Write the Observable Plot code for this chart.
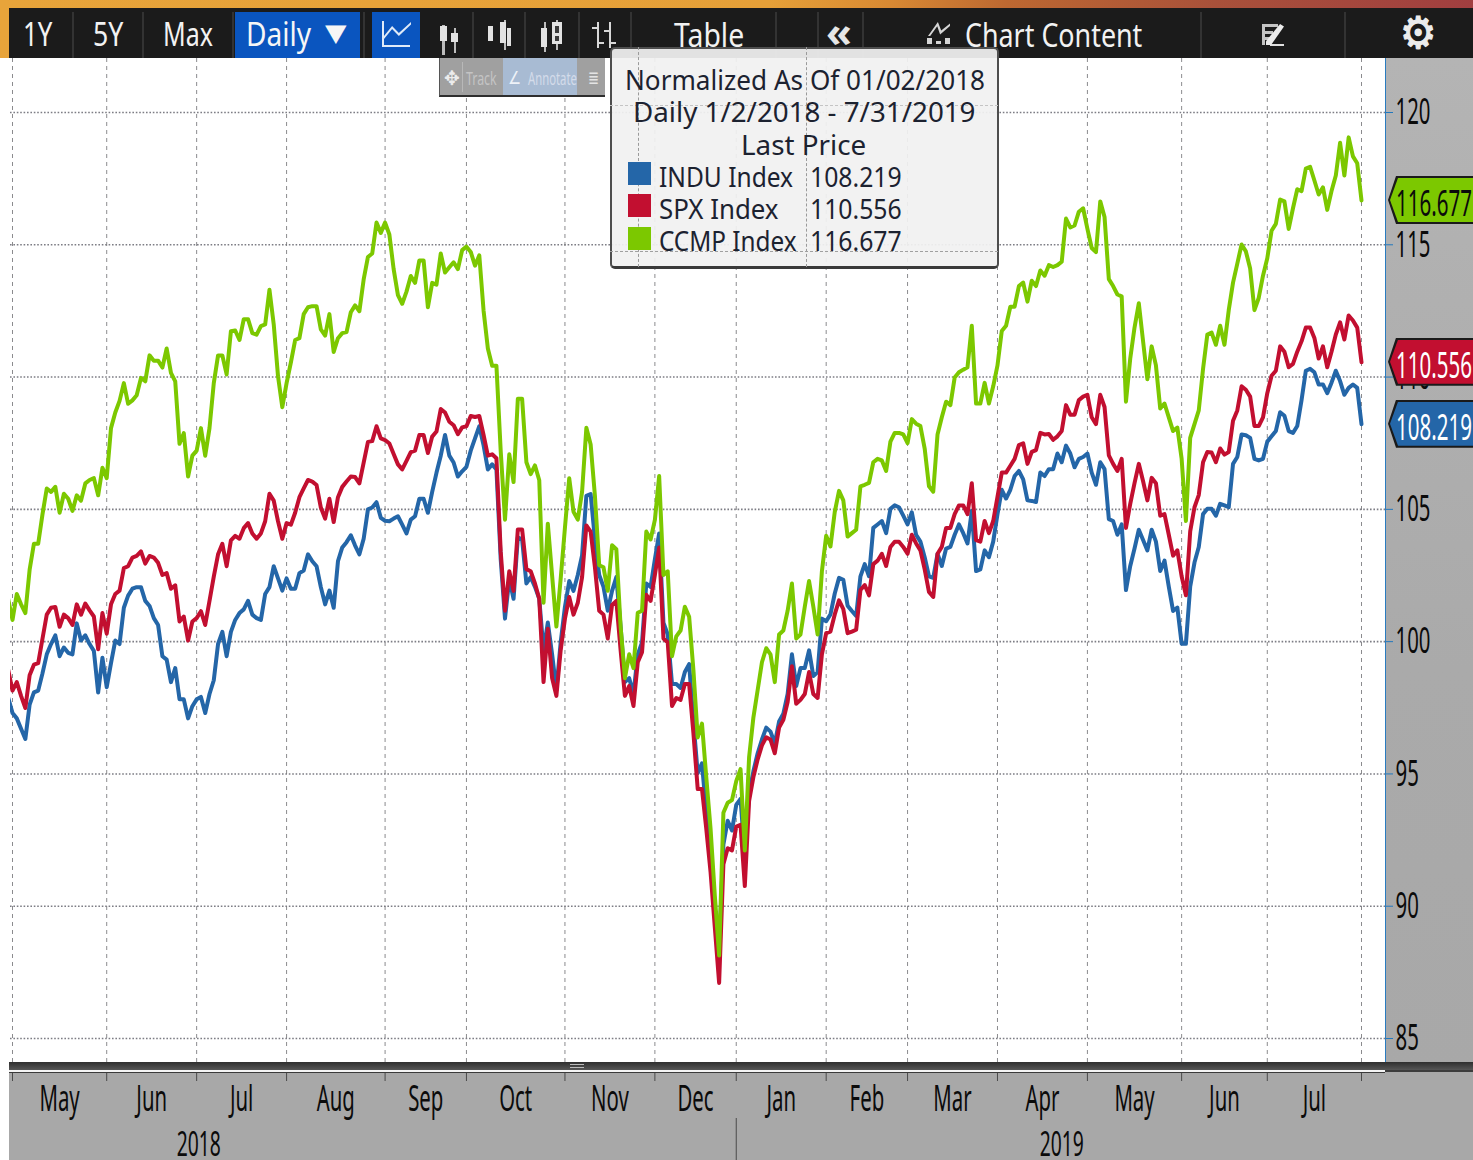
<!DOCTYPE html>
<html>
<head>
<meta charset="utf-8">
<script src="https://cdn.jsdelivr.net/npm/d3@7"></script>
<script src="https://cdn.jsdelivr.net/npm/@observablehq/plot@0.6"></script>
<style>
html,body{margin:0;padding:0;background:#fff;}
#stage{position:relative;width:1473px;height:1160px;overflow:hidden;font-family:"Noto Sans",sans-serif;}
#under,#over{position:absolute;left:0;top:0;width:1473px;height:1160px;}
#under{z-index:0;} #over{z-index:2;}
#chart{position:absolute;left:0;top:0;z-index:1;}
.b{position:absolute;}
.t{position:absolute;white-space:nowrap;line-height:1;transform-origin:left center;}
</style>
</head>
<body>
<div id="stage"><div id="under"></div><div id="chart"></div><div id="over"></div></div>
<script>
// Session numbers count trading days from 1 May 2018; the first value is the session before it.
const firstSession = -1;
const indu = [97.88,97.3,97.1,96.71,96.32,97.62,98.08,98.15,98.8,99.52,99.91,100.24,99.45,99.78,99.58,99.52,100.69,100.04,100.24,99.91,99.65,98.08,99.39,98.28,99.19,100.04,99.91,101.28,101.74,102.0,102.06,102.06,101.54,101.35,100.89,100.63,99.45,99.32,98.47,99.0,97.82,97.82,97.1,97.56,97.82,97.91,97.3,98.02,98.54,99.91,100.37,99.45,100.37,100.82,101.08,101.22,101.54,101.02,100.89,100.82,101.8,102.06,102.85,102.39,101.93,102.39,102.0,102.0,102.59,102.69,103.3,103.04,102.85,102.06,101.41,101.93,101.28,103.04,103.56,103.76,104.02,103.63,103.3,103.89,105.0,105.07,105.27,104.68,104.57,104.55,104.65,104.74,104.42,104.09,104.61,104.74,105.4,105.4,104.87,105.66,106.38,107.03,107.81,107.03,106.77,106.24,106.44,106.61,107.22,107.68,108.14,107.42,106.51,106.7,106.51,
103.11,100.87,102.37,101.62,103.94,103.86,102.2,102.44,102.07,101.62,99.67,100.72,99.52,98.17,99.97,101.32,102.29,101.92,102.52,103.26,105.51,105.58,103.86,102.52,102.07,101.17,101.92,102.44,100.57,98.47,98.62,98.02,99.52,99.97,102.2,102.07,103.11,104.09,100.72,100.27,98.4,98.4,98.25,98.85,99.15,96.98,95.03,95.4,93.53,91.89,89.94,88.29,92.34,93.23,92.86,93.83,94.06,91.89,94.28,95.1,95.78,96.3,96.75,96.6,96.15,96.98,97.28,98.02,99.52,98.32,99.0,99.0,99.67,98.7,98.85,100.87,
100.77,101.03,101.82,102.41,102.34,101.36,101.16,100.97,102.47,102.93,102.47,104.3,104.43,104.56,104.1,105.02,105.15,105.08,104.76,104.43,104.89,104.04,103.78,103.19,102.47,102.41,103.32,102.86,103.52,103.58,104.04,104.43,104.1,103.71,104.95,102.67,102.73,103.45,103.19,103.78,104.82,105.74,105.41,105.74,106.26,106.45,106.13,105.34,105.32,105.28,106.39,106.26,106.52,106.52,107.11,106.78,107.41,107.11,106.59,106.91,106.98,107.11,106.39,105.93,106.78,106.52,104.63,104.56,104.04,104.43,101.95,102.86,103.52,104.23,103.84,103.45,104.23,103.78,102.67,103.06,102.08,101.16,101.29,99.92,99.92,102.08,102.99,103.58,104.82,105.02,105.02,104.76,105.21,105.15,105.08,106.72,106.98,107.83,107.8,107.7,106.91,106.85,106.91,107.56,107.76,107.96,108.67,108.54,107.96,107.89,108.15,109.13,110.24,110.31,110.18,109.72,109.72,109.39,109.79,110.24,109.85,109.33,109.59,109.72,109.59,108.219];
const spx = [98.93,98.15,98.47,97.95,97.49,98.73,99.13,99.19,100.11,101.02,101.28,101.31,100.56,101.02,100.89,100.63,101.41,101.02,101.44,101.18,100.95,99.71,101.08,100.3,101.41,101.8,101.93,102.78,102.85,103.18,103.24,103.41,102.95,103.24,103.18,102.98,102.52,102.59,102.0,102.13,100.76,100.95,100.04,100.76,100.89,101.15,100.63,101.54,102.46,103.3,103.7,102.85,103.83,104.0,103.89,104.29,104.48,104.09,103.89,104.09,104.55,105.59,105.33,104.55,103.89,104.48,104.42,104.87,105.46,105.79,106.11,106.05,105.92,105.07,104.65,105.4,104.52,105.46,105.85,106.05,106.24,106.22,105.98,106.77,107.55,107.58,108.14,107.68,107.62,107.49,107.09,106.7,106.51,106.83,107.16,107.22,107.81,107.81,107.13,107.75,107.94,108.79,108.66,108.31,108.18,107.84,108.1,108.14,108.53,108.49,108.53,107.81,107.03,107.08,106.93,
103.41,101.17,102.66,101.92,104.24,104.24,102.74,102.66,102.2,101.62,98.47,100.49,98.62,97.95,99.67,100.87,101.69,101.02,101.47,102.44,104.39,104.16,102.81,101.17,101.02,100.12,101.39,101.54,99.67,97.95,98.32,97.57,99.22,99.6,101.77,101.54,102.52,103.56,100.12,99.97,97.57,97.87,97.8,98.4,98.4,96.53,94.43,94.43,92.93,91.29,89.19,87.1,91.59,92.19,92.11,93.01,93.08,90.76,93.98,94.88,95.55,96.08,96.38,96.3,95.78,96.75,97.05,97.72,99.07,97.65,97.8,98.02,98.85,98.02,97.87,99.52,
100.32,100.38,101.03,101.56,101.23,100.32,100.38,100.45,101.95,102.14,101.75,102.93,103.06,103.32,102.86,103.58,103.78,103.78,103.58,103.32,104.04,103.71,103.45,102.73,101.88,101.69,103.32,103.58,104.3,104.3,104.82,105.15,105.15,104.82,105.99,103.84,103.78,104.56,104.1,104.56,105.47,106.39,106.39,106.65,106.91,107.43,107.5,106.72,107.17,107.24,107.89,107.83,107.85,107.63,107.76,107.96,108.94,108.58,108.58,109.13,109.26,109.33,108.48,108.22,109.33,108.87,107.04,106.72,106.45,106.91,104.3,105.21,105.99,106.72,106.06,105.34,106.19,105.99,104.76,104.82,104.04,103.25,103.45,102.47,101.75,104.17,105.08,105.54,106.78,107.17,107.15,106.78,107.3,107.07,107.17,108.35,108.74,109.65,109.52,109.26,108.15,108.15,108.48,109.39,110.05,110.24,111.16,110.96,110.37,110.5,110.96,111.35,111.87,111.87,111.48,110.7,111.16,110.37,110.96,111.61,112.07,111.42,112.33,112.14,111.87,110.556];
const ccmp = [101.6,100.82,101.8,101.41,101.08,102.72,103.7,103.7,104.81,105.79,105.66,105.85,104.87,105.59,105.4,104.94,105.53,105.33,105.98,106.11,106.18,105.53,106.57,106.18,108.07,108.66,109.1,109.77,108.99,109.12,109.31,109.97,109.84,110.82,110.62,110.62,110.36,111.08,110.16,109.84,107.48,107.88,106.24,107.03,107.22,108.07,107.03,108.07,109.77,110.82,110.82,110.1,111.73,111.76,111.4,112.19,112.19,111.66,111.6,111.93,111.99,113.3,111.99,110.03,108.86,109.77,110.55,111.4,111.47,112.38,112.64,112.68,112.68,111.8,111.57,112.38,110.95,111.47,111.66,111.7,112.45,112.71,112.49,113.69,114.54,114.67,115.84,115.45,115.84,115.39,114.08,113.1,112.77,113.23,113.82,113.56,114.41,114.41,112.64,113.56,113.49,114.67,113.95,114.15,114.34,114.08,114.8,114.93,114.73,114.21,114.6,112.51,111.08,110.43,110.43,
107.2,104.61,107.08,106.03,109.18,109.18,106.78,106.33,106.66,106.1,101.47,104.46,102.5,100.57,102.37,104.31,106.18,104.91,104.61,105.66,108.08,107.45,105.51,102.89,102.81,101.92,103.64,103.49,100.57,98.62,99.52,99.0,101.09,101.17,104.16,103.86,104.6,106.26,102.52,102.66,99.45,100.2,100.42,101.32,100.94,98.92,96.38,96.9,94.88,92.93,90.39,88.14,93.53,93.91,94.01,94.73,95.18,92.11,95.63,97.13,98.17,99.22,99.75,99.52,98.47,100.27,100.42,101.17,102.2,100.12,100.27,101.32,102.29,101.32,100.27,102.66,
104.0,103.6,104.9,105.7,105.34,103.97,104.1,104.23,105.87,105.93,106.0,106.78,106.91,106.85,106.45,107.56,107.89,107.89,107.83,107.5,108.41,108.24,108.15,107.3,105.87,105.67,107.83,108.48,109.07,108.94,109.98,110.18,110.28,110.37,111.94,109.0,109.0,109.78,109.0,109.65,110.44,111.74,111.94,112.66,112.66,113.44,113.57,112.85,113.64,113.44,114.03,113.83,114.23,114.16,114.23,114.36,115.99,115.66,115.73,116.25,116.38,115.6,114.88,114.72,116.64,116.05,113.7,113.44,113.12,113.05,109.07,110.7,111.87,112.79,111.35,109.92,111.16,110.44,108.81,109.0,108.48,107.96,108.09,106.91,104.56,107.7,108.22,108.74,110.31,111.61,111.68,111.22,111.94,111.22,112.53,113.57,114.29,115.01,114.75,114.1,112.53,112.99,113.83,114.49,115.53,115.79,116.71,116.64,115.6,116.38,117.1,117.03,117.88,117.95,117.43,116.9,117.17,116.32,117.03,117.62,118.86,117.62,119.06,118.34,118.08,116.677];

const seriesNames = ["INDU Index","SPX Index","CCMP Index"];
const seriesColors = ["#2466a8","#c20f30","#7cc800"];
const lastPrices = ["108.219","110.556","116.677"];
const yTicks = [85,90,95,100,105,110,115,120];
const monthLabels = ["May","Jun","Jul","Aug","Sep","Oct","Nov","Dec","Jan","Feb","Mar","Apr","May","Jun","Jul"];
const monthStarts = [0,22,43,64,87,106,129,150,169,190,209,230,251,273,293];
const monthEnd = 315;
const yearLabels = ["2018","2019"];
const yearAt = [43.5,245];
const yearBreak = 169;

const rows = [];
[indu,spx,ccmp].forEach((vals,s) => vals.forEach((v,i) => rows.push({session:i+firstSession, value:v, series:seriesNames[s]})));
const monthRows = monthLabels.map((m,i) => ({label:m, mid:(monthStarts[i]+(monthStarts[i+1] ?? monthEnd))/2}));
const yearRows = yearLabels.map((y,i) => ({label:y, at:yearAt[i]}));
const allTicks = [...monthStarts, monthEnd];

const plot = Plot.plot({
  width:1473, height:1160,
  marginTop:58, marginBottom:98, marginLeft:10, marginRight:88,
  style:{background:"transparent", fontFamily:"'Noto Sans',sans-serif"},
  x:{type:"linear", domain:[0,315], range:[12,1361]},
  y:{type:"linear", domain:[85,120], range:[1038,112]},
  color:{domain:seriesNames, range:seriesColors},
  marks:[
    Plot.gridY(yTicks,{stroke:"#6f6f78", strokeOpacity:0.9, strokeWidth:1.6, strokeDasharray:"1.6 1.8"}),
    Plot.gridX(allTicks,{stroke:"#77777a", strokeOpacity:0.85, strokeWidth:1, strokeDasharray:"4 4"}),
    Plot.line(rows,{x:"session", y:"value", z:"series", stroke:"series", strokeWidth:4, strokeLinejoin:"round", clip:true}),
    Plot.axisY({anchor:"right", ticks:yTicks, tickSize:7, tickPadding:3, fontSize:37, stroke:"#2378bd", fill:"#0b0b0b", tickFormat:d=>String(d), label:null}),
    Plot.axisX({anchor:"bottom", ticks:allTicks, tickSize:8, dy:11, stroke:"#4a4a4a", tickFormat:()=>"", label:null}),
    Plot.axisX({anchor:"bottom", ticks:[yearBreak], tickSize:42, dy:56, stroke:"#4a4a4a", tickFormat:()=>"", label:null}),
    Plot.text(monthRows,{x:"mid", text:"label", frameAnchor:"bottom", dy:48, fontSize:37, fill:"#0b0b0b"}),
    Plot.text(yearRows,{x:"at", text:"label", frameAnchor:"bottom", dy:93, fontSize:35, fill:"#0b0b0b"})
  ]
});
document.getElementById("chart").appendChild(plot);
// The reference's type is tall and narrow
d3.select(plot).selectAll("text").each(function(){
  const n = this.getComputedTextLength();
  if (n > 0) { this.setAttribute("textLength", (n*0.55).toFixed(1)); this.setAttribute("lengthAdjust","spacingAndGlyphs"); }
});

const under = document.getElementById("under"), over = document.getElementById("over");
function box(parent,x,y,w,h,bg,extra){
  const d=document.createElement("div"); d.className="b";
  d.style.cssText=`left:${x}px;top:${y}px;width:${w}px;height:${h}px;background:${bg};${extra||""}`;
  parent.appendChild(d); return d;
}
function label(text,x,cy,size,w,color,extra){
  const s=document.createElement("span"); s.className="t"; s.textContent=text;
  s.style.cssText=`left:${x}px;top:${cy}px;font-size:${size}px;color:${color};${extra||""}`;
  over.appendChild(s);
  const k=w/s.offsetWidth;
  s.style.transform=`translateY(-50%) scaleX(${k.toFixed(3)})`;
  return s;
}

// panels behind the chart
box(under,1385,58,88,1015,"linear-gradient(180deg,#b4b4b4,#aaaaaa 60%,#a8a8a8)");
box(under,1385,58,1,1005,"#2a7cc0");
box(under,9,1072,1464,88,"#a8a8a8");
box(under,9,1062,1464,8,"linear-gradient(180deg,#2f2f2f,#565656)");
box(under,1385,1070,88,2,"#3c3c3c");
box(under,9,1070,1376,2,"#f4f4f4");
box(under,9,1072,1376,1,"#3a3a3a");
box(under,570,1064,14,1,"#bbb"); box(under,570,1067,14,1,"#bbb");

// top strip and toolbar
box(over,0,0,1473,58,"linear-gradient(98deg,#e8a43a 0%,#e6a038 52%,#d98a33 60%,#bd6831 68%,#a9513a 82%,#a13e40 100%)");
box(over,9,8,1464,50,"#1b1b1b");
box(over,235,12,125,46,"#0a55bf");
box(over,372,12,48,46,"#0a55bf");
[72,142,232,363,472,524,578,630,775,817,862,1200,1344].forEach(x=>box(over,x,12,2,46,"#333"));
label("1Y",23,34,32,29,"#f2f2f2");
label("5Y",93,34,32,30,"#f2f2f2");
label("Max",163,34,32,50,"#f2f2f2");
label("Daily",246,34,32,65,"#f6f6f6");
label("▼",325,33,24,21,"#f6f6f6","font-family:'DejaVu Sans';");
label("Table",674,35,32,70,"#f2f2f2");
label("«",826,31,42,26,"#e6e6e6","font-weight:700;");
label("Chart Content",965,35,32,177,"#f2f2f2");
label("⚙",1400,33,44,36,"#ececec","font-family:'DejaVu Sans';-webkit-text-stroke:1.2px #ececec;");

// line-chart button
box(over,382,21,2,26,"#dfeaf8"); box(over,382,45,28,2,"#dfeaf8");
box(over,384,22,27,20,"#dfeaf8","clip-path:polygon(0 70%,30% 20%,55% 55%,100% 0,100% 12%,55% 70%,30% 35%,0 85%);");
// candlestick buttons
[[442,25,3,30,"#bdbdbd"],[454,28,2,25,"#bdbdbd"],[504,20,2,30,"#bdbdbd"],[544,22,2,30,"#bdbdbd"],[556,20,2,30,"#bdbdbd"],
 [440,26,7,15,"#e2e2e2"],[451,33,7,9,"#e2e2e2"],[488,26,5,15,"#e2e2e2"],[500,22,6,21,"#e2e2e2"],[507,28,4,18,"#e2e2e2"],
 [541,28,6,19,"#e2e2e2"],[552,22,10,22,"#e2e2e2"],[555,26,4,7,"#3a3a3a"],[555,36,4,5,"#3a3a3a"],
 [597,22,2,26,"#d8d8d8"],[609,22,2,26,"#d8d8d8"],[592,27,6,2,"#d8d8d8"],[599,42,5,2,"#d8d8d8"],[604,30,6,2,"#d8d8d8"],[611,42,5,2,"#d8d8d8"]
].forEach(p=>box(over,p[0],p[1],p[2],p[3],p[4]));
// chart content icon
box(over,928,22,22,14,"#d5d5d5","clip-path:polygon(0 100%,45% 0,60% 60%,100% 10%,100% 28%,55% 90%,42% 30%,10% 100%);");
box(over,927,38,5,6,"#d5d5d5"); box(over,936,41,5,3,"#d5d5d5"); box(over,945,38,5,6,"#d5d5d5");
// edit icon
box(over,1262,24,16,3,"#c4c4c4"); box(over,1262,24,3,21,"#c4c4c4"); box(over,1262,31,11,3,"#c4c4c4"); box(over,1262,37,8,3,"#c4c4c4"); box(over,1270,44,14,2,"#e0e0e0");
box(over,1266,24,18,21,"#ececec","clip-path:polygon(78% 0,100% 12%,28% 100%,0 100%,0 82%);");

// floating tool strip
box(over,439,58,166,39,"#a0a0a0","border-bottom:2px solid #2e2e2e;box-sizing:border-box;border-left:1px solid #555;");
box(over,503,58,74,37,"#a8bbd3");
box(over,462,62,1,30,"#b8b8b8");
label("✥",444,78,20,16,"#ececec","font-family:'DejaVu Sans';");
label("Track",466,78,18,31,"#c4c4c4");
label("∠",508,78,18,13,"#eef2f8","font-family:'DejaVu Sans';");
label("Annotate",528,78,18,49,"#d4dcea");
label("≣",588,78,18,11,"#e4e4e4","font-family:'DejaVu Sans';");

// legend box
box(over,610,47,389,222,"rgba(241,241,241,0.93)","box-sizing:border-box;border:2px solid #4e4e4e;border-bottom:3px solid #3a3a3a;border-radius:5px;");
box(over,638,47,0,220,"transparent","border-left:1px dashed #9a9a9a;");
box(over,806,47,0,220,"transparent","border-left:1px dashed #9a9a9a;");
box(over,610,251,388,0,"transparent","border-top:1px dashed #a0a0a0;");
box(over,610,105,388,0,"transparent","border-top:1px dashed #c4c4c4;");
label("Normalized As Of 01/02/2018",625,79,28,360,"#1c2230");
label("Daily 1/2/2018 - 7/31/2019",633,111,28,343,"#1c2230");
label("Last Price",741,144,28,125,"#1c2230");
const legendRowsY=[176,208,240], legendNameW=[134,120,138];
seriesNames.forEach((n,i)=>{
  box(over,628,[162,194,227][i],23,23,seriesColors[i]);
  label(n,659,legendRowsY[i],28,legendNameW[i],"#1c2230");
  label(lastPrices[i],810,legendRowsY[i],28,92,"#1c2230");
});

// last-price tags, placed through the y scale
const yScale=plot.scale("y");
const tagText=["#fff","#fff","#0b0b0b"];
seriesNames.forEach((n,i)=>{
  const cy=yScale.apply(+lastPrices[i]);
  const poly="clip-path:polygon(8px 0,100% 0,100% 100%,8px 100%,0 50%);";
  box(over,1388,cy-24,85,48,"#1a1a1a",poly);
  box(over,1390,cy-22,83,44,seriesColors[i],poly);
  label(lastPrices[i],1396,cy+1,37,76,tagText[i]);
});
</script>
</body>
</html>
